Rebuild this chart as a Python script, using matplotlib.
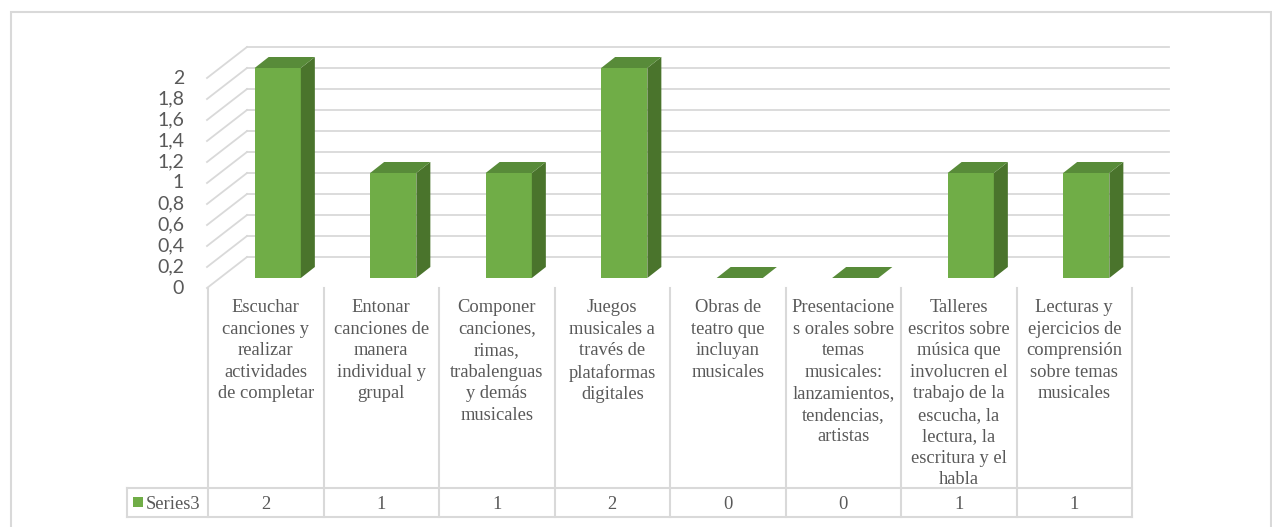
import matplotlib.pyplot as plt
from matplotlib.patches import Polygon, Rectangle

# Datos
categorias = [
    "Escuchar\ncanciones y\nrealizar\nactividades\nde completar",
    "Entonar\ncanciones de\nmanera\nindividual y\ngrupal",
    "Componer\ncanciones,\nrimas,\ntrabalenguas\ny demás\nmusicales",
    "Juegos\nmusicales a\ntravés de\nplataformas\ndigitales",
    "Obras de\nteatro que\nincluyan\nmusicales",
    "Presentacione\ns orales sobre\ntemas\nmusicales:\nlanzamientos,\ntendencias,\nartistas",
    "Talleres\nescritos sobre\nmúsica que\ninvolucren el\ntrabajo de la\nescucha, la\nlectura, la\nescritura y el\nhabla",
    "Lecturas y\nejercicios de\ncomprensión\nsobre temas\nmusicales",
]
valores = [2, 1, 1, 2, 0, 0, 1, 1]
serie = "Series3"
ticks = [0, 0.2, 0.4, 0.6, 0.8, 1, 1.2, 1.4, 1.6, 1.8, 2]
tick_labels = ["0", "0,2", "0,4", "0,6", "0,8", "1", "1,2", "1,4", "1,6", "1,8", "2"]

plt.rcParams["font.serif"] = ["Liberation Serif", "DejaVu Serif"]

W, H = 1272, 527
fig = plt.figure(figsize=(W / 100, H / 100), dpi=100)

# ejes: valor 0 en y=278 px, 105 px por unidad; columnas de 115.5 px
X0, X1, Y0, PY = 208, 1132, 278, 105
PX = (X1 - X0) / len(valores)
ax = fig.add_axes([X0 / W, (H - Y0) / H, (X1 - X0) / W, 2 * PY / H])
ax.set_xlim(-0.5, len(valores) - 0.5)
ax.set_ylim(0, 2)
ax.axis("off")


def dx(p):
    return p / PX


def dy(p):
    return p / PY


def ypix(p):
    return (Y0 - p) / PY


gris = "#d9d9d9"
texto = "#595959"
verde, verde_top, verde_lado = "#70ad47", "#588b39", "#4a742c"
fs = 13.3

# marco exterior
fig.patches.append(Rectangle((11 / W, -0.1), 1260 / W, 1.1 - 12 / H, transform=fig.transFigure,
                             fill=False, edgecolor=gris, lw=1.5))

# paredes: rejilla lateral y de fondo
xl = -0.5
xr = len(valores) - 0.5
for t, lab in zip(ticks, tick_labels):
    ax.plot([xl - dx(1), xl + dx(39)], [t - dy(10), t + dy(21)], color=gris, lw=1.3,
            clip_on=False, zorder=1)
    ax.plot([xl + dx(39), xr + dx(37)], [t + dy(21), t + dy(21)], color=gris, lw=1.3,
            clip_on=False, zorder=1)
    ax.text(xl - dx(24), t - dy(10), lab, ha="right", va="center", fontsize=14,
            family="Lato", color=texto, clip_on=False)

# barras 3D
w = 0.4
off = dx(12)
sx, sy = dx(14), dy(11)
for i, v in enumerate(valores):
    l, r = i + off - w / 2, i + off + w / 2
    if v > 0:
        ax.add_patch(Rectangle((l, 0), w, v, facecolor=verde, edgecolor="none",
                               clip_on=False, zorder=3))
        ax.add_patch(Polygon([(r, 0), (r + sx, sy), (r + sx, v + sy), (r, v)],
                             facecolor=verde_lado, edgecolor="none", clip_on=False, zorder=3))
    ax.add_patch(Polygon([(l, v), (r, v), (r + sx, v + sy), (l + sx, v + sy)],
                         facecolor=verde_top, edgecolor="none", clip_on=False, zorder=3))

# tabla de datos
y_top, y_mid, y_bot = ypix(288), ypix(488), ypix(517)
x_leg = xl + dx(127 - X0)
for k in range(len(valores) + 1):
    ax.plot([k - 0.5, k - 0.5], [y_top, y_bot], color=gris, lw=1.5, clip_on=False)
ax.plot([x_leg, x_leg], [y_mid, y_bot], color=gris, lw=1.5, clip_on=False)
ax.plot([x_leg, xr], [y_mid, y_mid], color=gris, lw=1.5, clip_on=False)
ax.plot([x_leg, xr], [y_bot, y_bot], color=gris, lw=1.5, clip_on=False)

for i, (c, v) in enumerate(zip(categorias, valores)):
    ax.text(i, ypix(299), c, ha="center", va="top", fontsize=fs, family="serif",
            color=texto, linespacing=1.35, clip_on=False)
    ax.text(i, ypix(509), str(v), ha="center", va="baseline", fontsize=fs, family="serif",
            color=texto, clip_on=False)

ax.add_patch(Rectangle((xl + dx(133 - X0), ypix(507)), dx(10), dy(10), facecolor=verde,
                       edgecolor="none", clip_on=False))
ax.text(xl + dx(146 - X0), ypix(509), serie, ha="left", va="baseline", fontsize=fs,
        family="serif", color=texto, clip_on=False)

plt.savefig("out.png", dpi=100)
